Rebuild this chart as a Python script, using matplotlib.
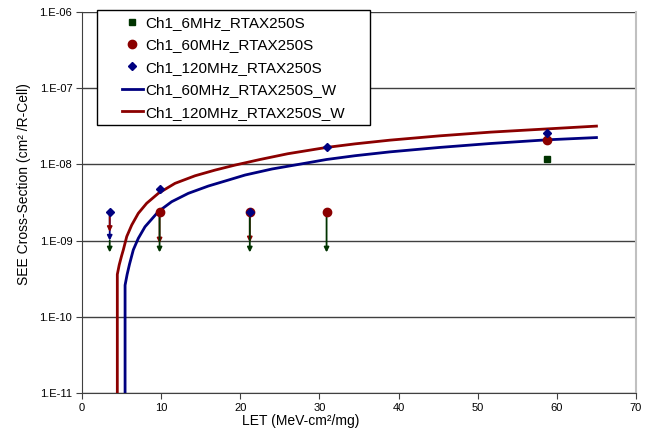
import matplotlib.pyplot as plt
from matplotlib.lines import Line2D
from matplotlib.patches import Rectangle

plt.rcParams['font.family'] = ['Liberation Sans', 'DejaVu Sans']

# -------- DATA --------
let_6mhz = [58.7]
xs_6mhz = [1.17e-8]

let_60mhz = [9.8, 21.2, 30.9, 58.7]
xs_60mhz = [2.4e-9, 2.4e-9, 2.4e-9, 2.1e-8]

let_120mhz = [3.5, 9.8, 21.2, 30.9, 58.7]
xs_120mhz = [2.4e-9, 4.75e-9, 2.4e-9, 1.67e-8, 2.6e-8]

# upper-limit arrows: x, start, tip
arrow_x_6mhz = [3.5, 9.8, 21.2, 30.9]
arrow_top_6mhz = [1.0e-9, 2.4e-9, 2.4e-9, 2.4e-9]
arrow_tip_6mhz = [7.0e-10, 7.0e-10, 7.0e-10, 7.0e-10]

arrow_x_60mhz = [3.5, 9.8, 21.2]
arrow_top_60mhz = [2.4e-9, 2.4e-9, 2.4e-9]
arrow_tip_60mhz = [1.3e-9, 0.92e-9, 0.95e-9]

arrow_x_120mhz = [3.5]
arrow_top_120mhz = [2.4e-9]
arrow_tip_120mhz = [1.0e-9]

# Weibull fit curves, sampled
fit_let_60 = [5.44, 5.44, 5.7, 6.0, 6.48, 7.11, 7.96, 9.64, 11.33, 13.43, 15.96, 18.49,
              20.6, 24.0, 27.6, 30.9, 34.5, 38.9, 45.2, 51.6, 58.7, 65.0]
fit_xs_60 = [1e-12, 2.6e-10, 3.6e-10, 4.9e-10, 7.56e-10, 1.07e-9, 1.52e-9, 2.40e-9, 3.24e-9,
             4.17e-9, 5.20e-9, 6.23e-9, 7.25e-9, 8.7e-9, 1.01e-8, 1.16e-8, 1.3e-8, 1.46e-8,
             1.67e-8, 1.88e-8, 2.1e-8, 2.25e-8]

fit_let_120 = [4.46, 4.46, 4.7, 5.0, 5.22, 5.65, 6.28, 7.11, 8.17, 9.64, 11.75, 14.28, 16.81,
               19.33, 22.5, 26.0, 30.9, 34.5, 38.9, 45.2, 51.6, 58.7, 65.0]
fit_xs_120 = [1e-12, 3.6e-10, 4.8e-10, 6.3e-10, 7.56e-10, 1.13e-9, 1.60e-9, 2.28e-9, 3.09e-9,
              4.17e-9, 5.64e-9, 7.09e-9, 8.42e-9, 9.79e-9, 1.16e-8, 1.38e-8, 1.67e-8, 1.86e-8,
              2.08e-8, 2.37e-8, 2.65e-8, 2.92e-8, 3.18e-8]

GREEN = '#003300'
RED = '#8b0000'
BLUE = '#000080'

fig = plt.figure(figsize=(6.53, 4.36), dpi=100)
ax = fig.add_axes([0.1256, 0.0986, 0.8484, 0.8739])

ax.set_yscale('log')
ax.set_xlim(0, 70)
ax.set_ylim(1e-11, 1e-6)


def draw_arrows(xs, tops, tips, color):
    for x, top, tip in zip(xs, tops, tips):
        ax.annotate('', xy=(x, tip), xytext=(x, top),
                    arrowprops=dict(arrowstyle='-|>', color=color, lw=1.3,
                                    mutation_scale=7, shrinkA=0, shrinkB=0))


draw_arrows(arrow_x_120mhz, arrow_top_120mhz, arrow_tip_120mhz, BLUE)
draw_arrows(arrow_x_60mhz, arrow_top_60mhz, arrow_tip_60mhz, RED)
draw_arrows(arrow_x_6mhz, arrow_top_6mhz, arrow_tip_6mhz, GREEN)

ax.plot(fit_let_60, fit_xs_60, color=BLUE, lw=2, zorder=3)
ax.plot(fit_let_120, fit_xs_120, color=RED, lw=2, zorder=3)

ax.plot(let_6mhz, xs_6mhz, ls='none', marker='s', ms=5, color=GREEN, zorder=4)
ax.plot(let_60mhz, xs_60mhz, ls='none', marker='o', ms=6, color=RED, zorder=4)
ax.plot(let_120mhz, xs_120mhz, ls='none', marker='D', ms=4.5, color=BLUE, zorder=5)

# axes styling
ax.grid(True, which='major', axis='y', color='#404040', lw=1)
ax.set_axisbelow(True)
ax.minorticks_off()
ax.set_xticks(range(0, 71, 10))
ax.set_yticks([1e-11, 1e-10, 1e-9, 1e-8, 1e-7, 1e-6])
ax.set_yticklabels(['1.E-11', '1.E-10', '1.E-09', '1.E-08', '1.E-07', '1.E-06'])
ax.tick_params(labelsize=8, direction='out', length=4, color='#404040', pad=3)
for side in ['left', 'bottom']:
    ax.spines[side].set_color('#404040')
ax.spines['top'].set_visible(False)
ax.spines['right'].set_color('#c0c0c0')
ax.spines['right'].set_linewidth(1.5)

ax.set_xlabel('LET (MeV-cm²/mg)', fontsize=10, labelpad=1)
ax.set_ylabel('SEE Cross-Section (cm² /R-Cell)', fontsize=10, labelpad=6)
ax.xaxis.label.set_x(0.395)
ax.yaxis.label.set_y(0.549)

# legend box drawn separately so the padding can be set per side
fig.patches.append(Rectangle((97 / 653, 1 - 125 / 436), 273 / 653, 115 / 436,
                             transform=fig.transFigure, facecolor='white',
                             edgecolor='black', lw=1, zorder=4))

handles = [
    Line2D([], [], ls='none', marker='s', ms=5, color=GREEN),
    Line2D([], [], ls='none', marker='o', ms=6, color=RED),
    Line2D([], [], ls='none', marker='D', ms=4.5, color=BLUE),
    Line2D([], [], color=BLUE, lw=2),
    Line2D([], [], color=RED, lw=2),
]
labels = ['Ch1_6MHz_RTAX250S', 'Ch1_60MHz_RTAX250S', 'Ch1_120MHz_RTAX250S',
          'Ch1_60MHz_RTAX250S_W', 'Ch1_120MHz_RTAX250S_W']
leg = fig.legend(handles, labels, loc='upper left', bbox_to_anchor=(122 / 653, 1 - 16 / 436),
                 fontsize=11, frameon=False, borderpad=0, labelspacing=0.55,
                 handlelength=1.35, handletextpad=0.15, borderaxespad=0)
leg.set_zorder(5)

fig.savefig('out.png', dpi=100)
